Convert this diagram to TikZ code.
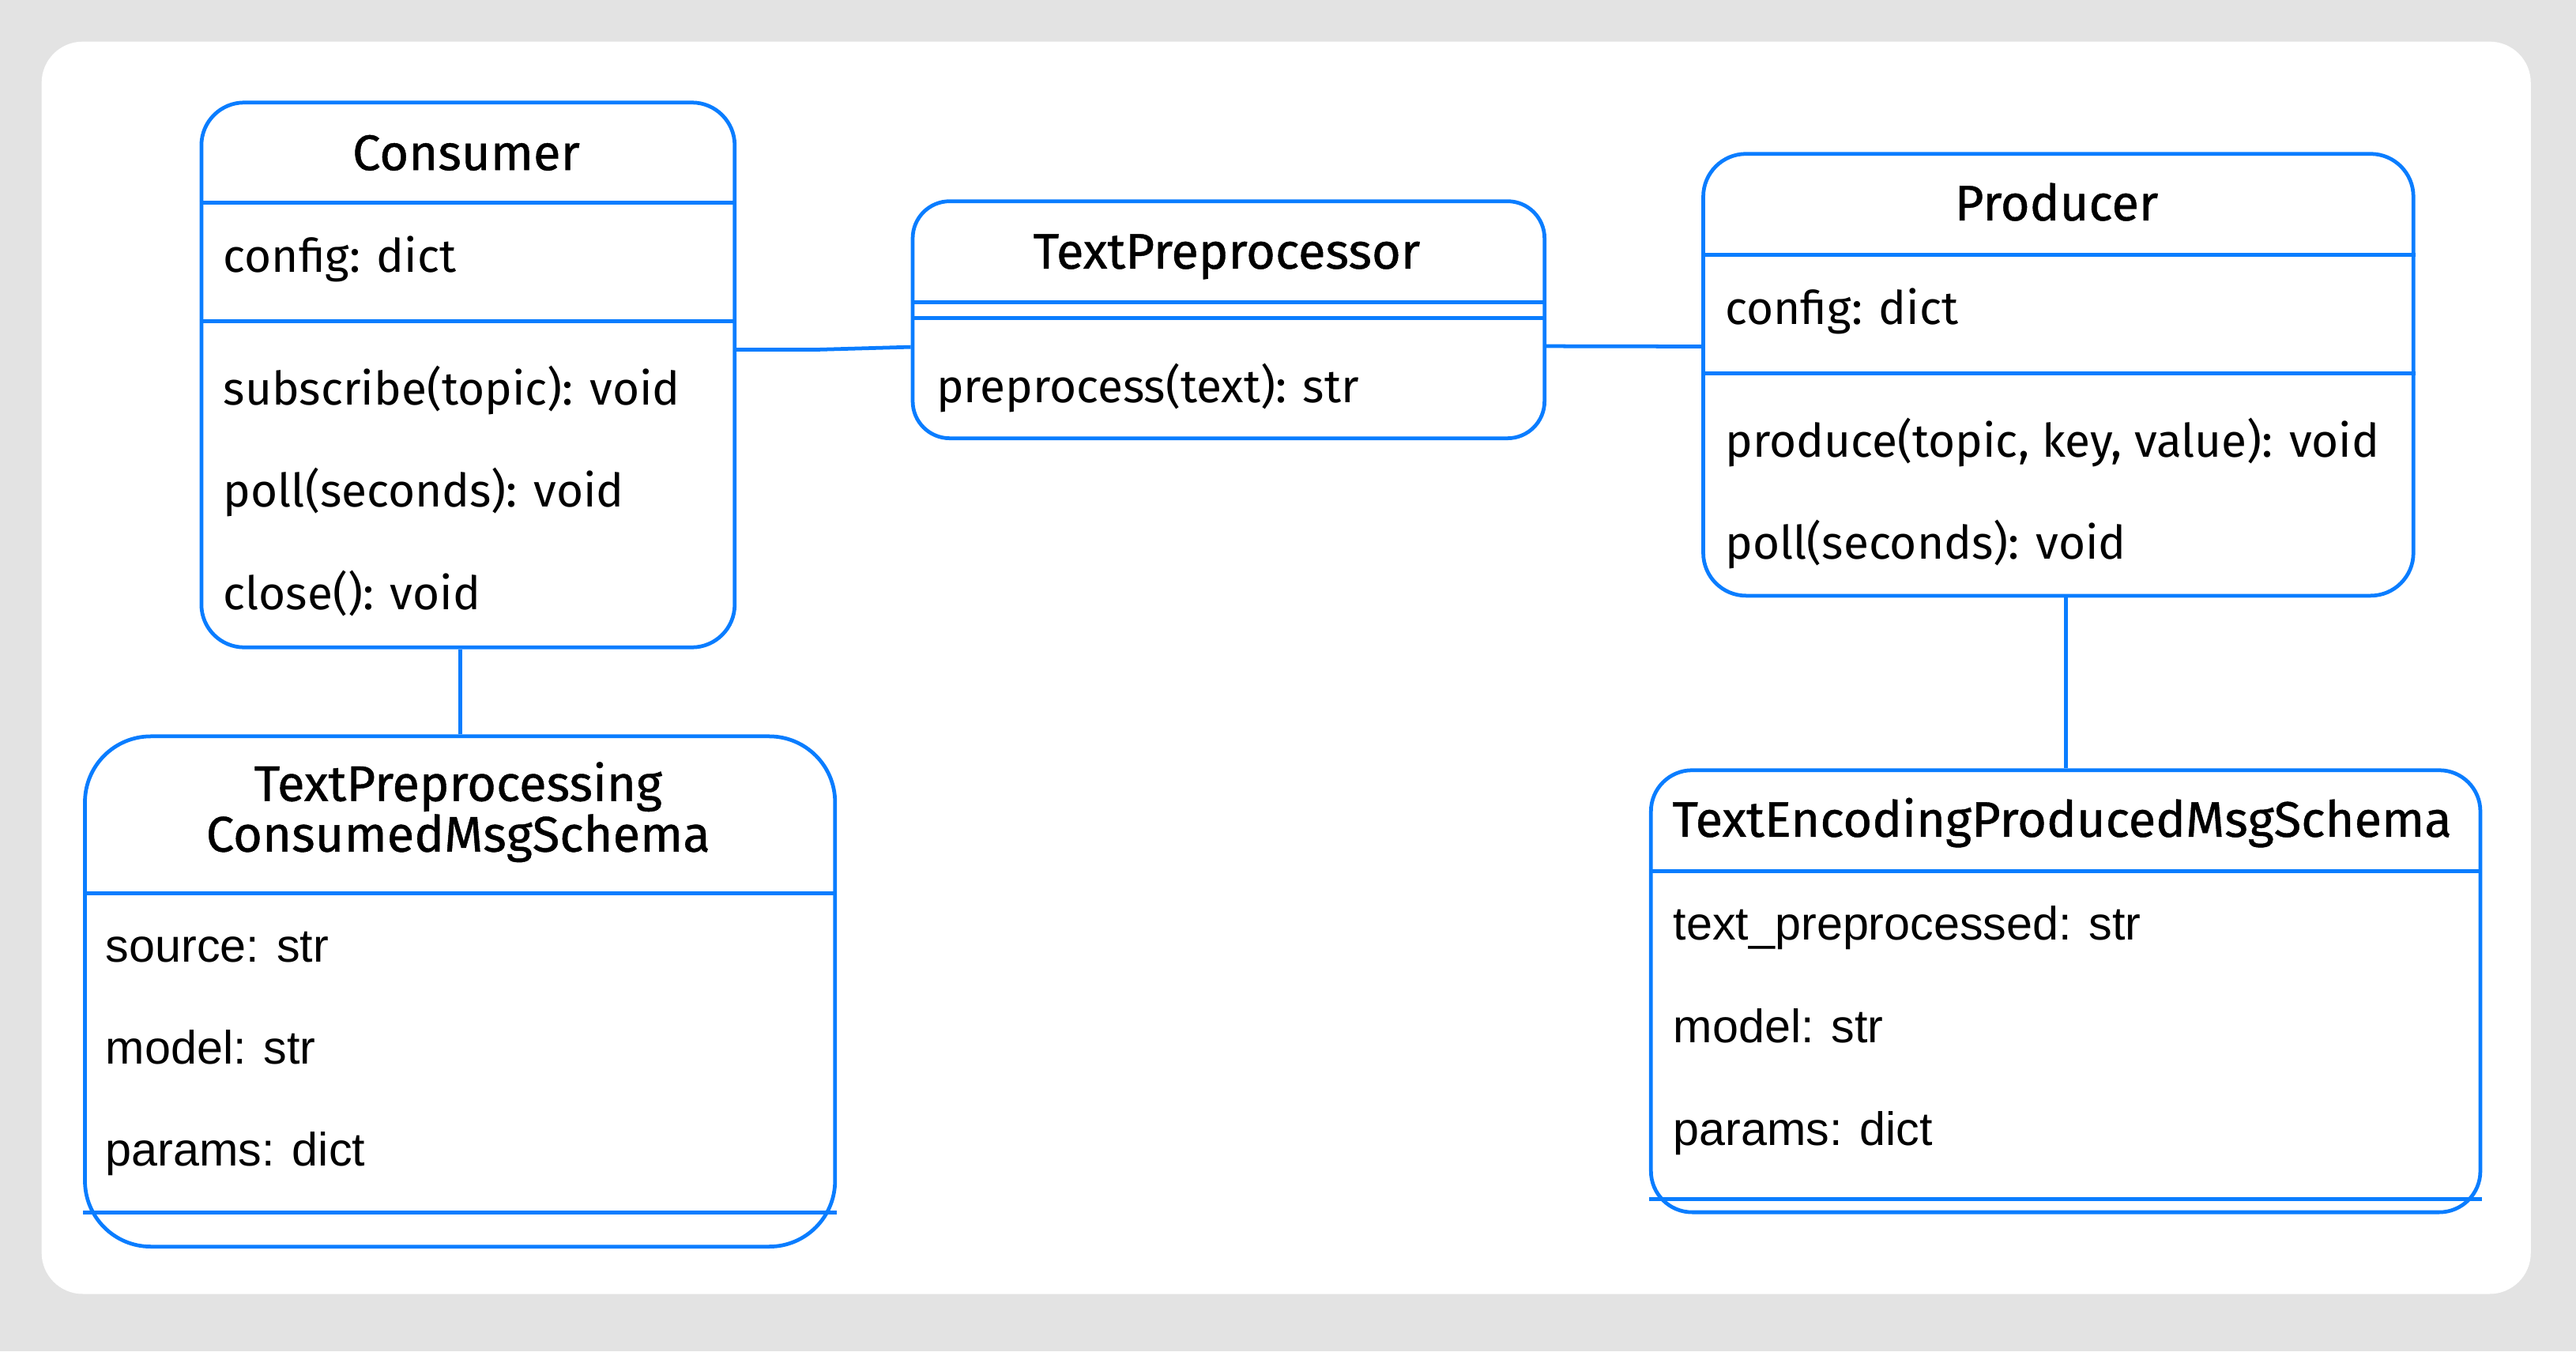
\documentclass[tikz,border=0pt]{standalone}
\usepackage{fontspec}
\usepackage{tikz}
\setmainfont{Fira Sans}
\newfontfamily\titlefont{Fira Sans}[FakeBold=0.7]
\newfontfamily\schemafont{Liberation Sans}
\definecolor{umlblue}{RGB}{10,125,255}
\definecolor{framegray}{RGB}{227,227,227}
\tikzset{
  classbox/.style={draw=umlblue, fill=white, line width=1.3pt, rounded corners=#1,
    anchor=north west, inner sep=0pt},
  classbox/.default=5mm,
  sepline/.style={draw=umlblue, line width=1.3pt},
  link/.style={draw=umlblue, line width=1.3pt},
  heading/.style={anchor=base, inner sep=0pt, font=\titlefont\fontsize{17.3}{20}\selectfont},
  member/.style={anchor=base west, inner sep=0pt, font=\fontsize{16}{19}\selectfont},
  field/.style={anchor=base west, inner sep=0pt, font=\schemafont\fontsize{16.2}{19}\selectfont}
}

\begin{document}
\begin{tikzpicture}
  \useasboundingbox (0,0) rectangle (31.32,-16.429);
  \fill[framegray] (0,0) rectangle (31.32,-16.429);
  \fill[white, rounded corners=5mm] (0.506,-0.506) rectangle (30.77,-15.732);

  % Consumer
  \node[classbox=5.2mm, minimum width=6.484cm, minimum height=6.624cm] (consumer) at (2.426,-1.224) {};
  \draw[sepline] ([yshift=-1.244cm]consumer.north west) -- ([yshift=-1.244cm]consumer.north east);
  \draw[sepline] ([yshift=-2.682cm]consumer.north west) -- ([yshift=-2.682cm]consumer.north east);
  \node[heading] (consumer-title) at (5.668,-2.068) {Consumer};
  \node[member] (consumer-config) at (2.71,-3.306) {config: dict};
  \foreach \m [count=\i from 0] in {subscribe(topic): void, poll(seconds): void, close(): void}
    \node[member] (consumer-op\i) at (2.71,{-4.92-1.245*\i}) {\m};

  % TextPreprocessor
  \node[classbox=4.5mm, minimum width=7.682cm, minimum height=2.882cm] (prep) at (11.074,-2.424) {};
  \draw[sepline] ([yshift=-1.25cm]prep.north west) -- ([yshift=-1.25cm]prep.north east);
  \draw[sepline] ([yshift=-1.442cm]prep.north west) -- ([yshift=-1.442cm]prep.north east);
  \node[heading] (prep-title) at (14.915,-3.266) {TextPreprocessor};
  \node[member] (prep-op0) at (11.378,-4.894) {preprocess(text): str};

  % Producer
  \node[classbox=5.2mm, minimum width=8.634cm, minimum height=5.372cm] (producer) at (20.686,-1.848) {};
  \draw[sepline] ([yshift=-1.25cm]producer.north west) -- ([yshift=-1.25cm]producer.north east);
  \draw[sepline] ([yshift=-2.692cm]producer.north west) -- ([yshift=-2.692cm]producer.north east);
  \node[heading] (producer-title) at (25.003,-2.68) {Producer};
  \node[member] (producer-config) at (20.972,-3.94) {config: dict};
  \foreach \m [count=\i from 0] in {{produce(topic, key, value): void}, poll(seconds): void}
    \node[member] (producer-op\i) at (20.972,{-5.556-1.245*\i}) {\m};

  % consumed message schema
  \node[classbox=8mm, minimum width=9.12cm, minimum height=6.204cm] (consumed) at (1.01,-8.93) {};
  \draw[sepline] ([yshift=-1.93cm]consumed.north west) -- ([yshift=-1.93cm]consumed.north east);
  \draw[sepline] ([yshift=0.434cm]consumed.south west) -- ([yshift=0.434cm]consumed.south east);
  \node[heading] (consumed-title1) at (5.57,-9.738) {TextPreprocessing};
  \node[heading] (consumed-title2) at (5.57,-10.354) {ConsumedMsgSchema};
  \foreach \f [count=\i from 0] in {source: str, model: str, params: dict}
    \node[field] (consumed-f\i) at (1.28,{-11.698-1.238*\i}) {\f};

  % produced message schema
  \node[classbox=5mm, minimum width=10.084cm, minimum height=5.374cm] (produced) at (20.05,-9.342) {};
  \draw[sepline] ([yshift=-1.25cm]produced.north west) -- ([yshift=-1.25cm]produced.north east);
  \draw[sepline] ([yshift=0.184cm]produced.south west) -- ([yshift=0.184cm]produced.south east);
  \node[heading] (produced-title) at (25.07,-10.174) {TextEncodingProducedMsgSchema};
  \foreach \f [count=\i from 0] in {text\_preprocessed: str, model: str, params: dict}
    \node[field] (produced-f\i) at (20.34,{-11.426-1.252*\i}) {\f};

  % links
  \draw[link] ([yshift=0.308cm]consumer.east) -- ++(0.99,0) -- ([yshift=-0.331cm]prep.west);
  \draw[link] ([yshift=-0.321cm]prep.east) -- ([yshift=0.344cm]producer.west);
  \draw[link] (consumed.north) -- (consumed.north |- consumer.south);
  \draw[link] (produced.north) -- (produced.north |- producer.south);
\end{tikzpicture}
\end{document}
